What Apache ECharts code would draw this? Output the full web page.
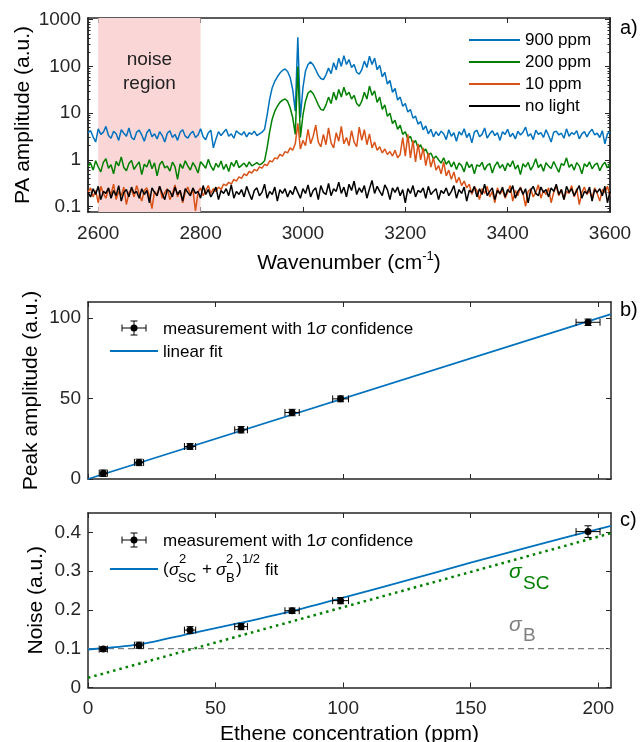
<!DOCTYPE html>
<html>
<head>
<meta charset="utf-8">
<title>PA spectra and calibration</title>
<script src="https://cdn.jsdelivr.net/npm/echarts@6/dist/echarts.min.js"></script>
<style>
  html, body { margin: 0; padding: 0; background: #fff; }
  #chart { width: 642px; height: 742px; }
</style>
</head>
<body>
<div id="chart"></div>
<script>
// ---- panel a: spectra, sampled every 5 cm-1 from 2580 to 3600 ----
const ppm900 = [
  3.8,4.2,3.1,2.4,4.6,3.5,3.9,5.2,3.3,2.9,4.1,3.6,2.6,4.4,3.7,3.2,4.8,3.0,2.7,3.9,
  4.3,3.4,2.5,3.8,4.5,3.1,3.6,2.8,4.0,3.3,2.4,3.7,4.2,3.0,3.5,2.6,3.9,4.4,3.2,2.9,
  3.6,4.1,3.0,3.4,4.6,3.1,2.7,3.8,4.3,1.8,2.8,4.0,3.3,3.9,4.5,3.2,3.6,2.9,4.2,3.7,
  3.4,4.0,3.1,3.8,3.5,4.1,3.3,3.6,3.9,
  4.5,9,20,35,48,60,72,82,88,78,58,32,11,420,
  8,35,80,110,125,108,85,65,55,52,66,92,70,120,85,150,100,170,110,140,95,110,
  75,68,85,130,95,165,110,150,85,105,60,75,42,50,28,34,19,22,14,16,10.5,12,7.8,8.6,5.8,6.6,4.4,5.3,3.6,4.5,3.1,4.0,
  3.3,4.1,3.6,2.7,4.4,3.2,3.8,2.5,4.0,3.4,4.6,3.0,3.7,2.3,3.9,4.3,3.1,3.5,4.8,2.9,
  3.6,4.2,3.3,3.8,2.6,4.0,3.5,4.5,3.1,3.7,2.8,4.1,3.4,3.9,5.0,3.2,3.6,2.7,4.3,3.5,
  3.8,3.0,4.4,3.3,2.4,3.9,4.1,3.4,3.7,2.9,4.6,3.2,3.8,3.5,4.2,2.8,3.6,4.0,3.1,3.9,
  4.5,3.4,3.7,3.0,4.2,2.2,3.6,4.0
];
const ppm200 = [
  0.72,0.85,0.6,0.95,0.7,0.55,0.88,1.05,0.66,0.78,0.5,0.92,0.74,1.15,0.68,0.58,0.83,0.97,0.62,0.76,
  0.9,0.48,0.8,0.7,1.0,0.64,0.86,0.45,0.79,0.93,0.67,0.73,0.57,0.89,0.71,0.38,0.82,0.65,0.95,0.74,
  0.6,0.87,0.7,0.52,0.91,0.78,0.66,1.02,0.73,0.59,0.84,0.69,0.94,0.62,0.8,0.56,0.88,0.72,0.98,0.68,
  0.76,0.85,0.7,0.9,0.74,0.8,0.87,0.78,0.83,
  0.95,1.8,4,7.5,11,14,17,19,20,18,13,8,3.5,100,
  3,9,18,27,30,26,20,15,12,11.5,15,22,16,28,19,32,22,36,24,28,20,24,
  16,14,18,28,20,38,24,30,17,22,12,15,8.5,10,6,7,4.5,5.5,3.5,4,2.8,3.2,2.2,2.6,1.8,2.1,1.5,1.7,1.25,1.4,1.05,1.2,
  1.0,0.85,1.1,0.8,0.95,0.7,0.9,0.62,0.85,0.75,0.55,0.9,0.68,0.8,0.5,0.78,0.72,0.88,0.6,0.76,
  0.83,0.52,0.74,0.9,0.66,0.79,0.58,0.85,0.71,0.95,0.63,0.77,0.48,0.82,0.7,0.88,0.6,0.75,1.05,0.68,
  0.8,0.57,0.86,0.73,0.65,0.92,0.7,0.54,0.83,0.76,1.1,0.69,0.8,0.6,0.87,0.74,0.5,0.82,0.71,0.9,
  0.64,0.78,0.85,0.58,0.76,0.88,0.67,0.8
];
const ppm10 = [
  0.2,0.25,0.16,0.22,0.12,0.27,0.19,0.15,0.24,0.18,0.3,0.14,0.21,0.17,0.26,0.11,0.2,0.23,0.16,0.28,
  0.19,0.13,0.22,0.25,0.17,0.09,0.21,0.18,0.27,0.15,0.2,0.24,0.14,0.19,0.29,0.16,0.22,0.12,0.2,0.26,
  0.18,0.23,0.08,0.2,0.25,0.17,0.22,0.28,0.19,0.24,0.21,0.26,0.23,0.3,0.28,0.33,0.3,0.38,0.35,0.43,
  0.4,0.5,0.46,0.56,0.52,0.62,0.58,0.7,0.66,
  0.8,0.75,0.95,0.9,1.1,1.05,1.3,1.2,1.5,1.4,1.8,1.6,2.2,6,
  1.7,2.6,2.0,4.5,2.2,3.2,5.5,2.4,1.9,3.5,2.1,4.8,2.3,1.8,3.8,2.5,5.2,2.2,3.0,2.0,4.2,2.4,
  1.9,5.0,2.6,4.4,2.1,3.6,1.8,2.4,1.6,1.9,1.4,1.7,1.3,1.5,1.2,1.6,1.1,1.3,3.0,1.2,3.5,1.1,2.6,0.9,2.2,1.0,1.8,0.75,1.4,0.7,1.1,0.6,
  0.75,0.5,0.9,0.45,0.6,0.38,0.55,0.32,0.42,0.28,0.35,0.25,0.3,0.18,0.26,0.22,0.14,0.24,0.19,0.27,
  0.16,0.21,0.12,0.25,0.18,0.23,0.15,0.2,0.28,0.13,0.22,0.17,0.26,0.19,0.1,0.21,0.24,0.16,0.2,0.29,
  0.15,0.22,0.18,0.25,0.12,0.2,0.27,0.17,0.23,0.14,0.21,0.19,0.28,0.16,0.24,0.11,0.2,0.26,0.18,0.22,
  0.15,0.25,0.19,0.13,0.23,0.2,0.27,0.17
];
const noLight = [
  0.2,0.16,0.24,0.18,0.27,0.14,0.21,0.19,0.25,0.15,0.22,0.17,0.28,0.13,0.2,0.23,0.16,0.26,0.19,0.21,
  0.15,0.24,0.18,0.22,0.12,0.25,0.2,0.17,0.27,0.19,0.14,0.23,0.21,0.16,0.26,0.18,0.22,0.13,0.24,0.2,
  0.17,0.25,0.19,0.21,0.15,0.28,0.18,0.23,0.16,0.2,0.26,0.14,0.22,0.19,0.24,0.17,0.29,0.15,0.21,0.18,
  0.23,0.16,0.27,0.19,0.14,0.22,0.25,0.17,0.2,0.3,0.15,0.21,0.18,0.26,0.13,0.23,0.19,0.24,0.16,0.22,
  0.18,0.27,0.2,0.15,0.24,0.19,0.29,0.16,0.22,0.25,0.14,0.28,0.2,0.18,0.31,0.17,0.24,0.21,0.33,0.19,
  0.26,0.16,0.3,0.22,0.35,0.18,0.25,0.2,0.28,0.15,0.24,0.36,0.19,0.27,0.21,0.17,0.29,0.23,0.14,0.25,
  0.2,0.26,0.17,0.23,0.12,0.24,0.19,0.28,0.16,0.22,0.2,0.25,0.15,0.27,0.18,0.21,0.24,0.14,0.22,0.19,
  0.25,0.17,0.21,0.28,0.15,0.23,0.19,0.26,0.13,0.22,0.2,0.27,0.16,0.24,0.18,0.3,0.17,0.21,0.25,0.14,
  0.22,0.19,0.26,0.16,0.23,0.2,0.28,0.15,0.21,0.25,0.18,0.24,0.12,0.22,0.27,0.19,0.17,0.26,0.2,0.23,
  0.16,0.25,0.21,0.3,0.18,0.23,0.14,0.27,0.2,0.24,0.17,0.22,0.28,0.15,0.21,0.19,0.26,0.13,0.23,0.2,
  0.24,0.17,0.27,0.12,0.21
];
const wavenumbers = ppm900.map((_, i) => 2580 + 5 * i);
const wnTicks = [2600, 2800, 3000, 3200, 3400, 3600];
const logTicks = [0.1, 1, 10, 100, 1000];
const logMinor = [0.08, 0.09, 0.2, 0.3, 0.4, 0.5, 0.6, 0.7, 0.8, 0.9,
  2, 3, 4, 5, 6, 7, 8, 9, 20, 30, 40, 50, 60, 70, 80, 90,
  200, 300, 400, 500, 600, 700, 800, 900];

// ---- panels b and c: calibration ----
const concentration = [6, 20, 40, 60, 80, 99, 196];
const concErr = [1.6, 1.8, 2.2, 2.5, 2.8, 3.1, 4.7];
const peakAmp = [3.6, 10.3, 20.2, 30.6, 41.3, 49.8, 97.4];
const peakErr = [2, 2, 1.8, 2, 2, 1.8, 2];
const noise = [0.099, 0.109, 0.148, 0.157, 0.198, 0.224, 0.402];
const noiseErr = [0.006, 0.008, 0.009, 0.008, 0.007, 0.008, 0.015];

const linFitConc = [0, 205];
const linFitPeak = [0, 102.4];
const noiseFitConc = [0, 20, 40, 60, 80, 100, 125, 150, 175, 205];
const noiseFit = [0.098, 0.111, 0.139, 0.167, 0.197, 0.232, 0.276, 0.322, 0.366, 0.417];
const sigmaLineConc = [0, 205];
const sigmaSC = [0.025, 0.398];
const sigmaB = [0.1, 0.1];
const concTicks = [0, 50, 100, 150, 200];
const peakTicks = [0, 50, 100];
const noiseTicks = [0, 0.1, 0.2, 0.3, 0.4];

const FONT = "'Liberation Sans', Arial, sans-serif";
const AX = '#262626';
const BLUE = '#0072BD', GREEN = '#008000', ORANGE = '#D95319';
const SPEC_W = 1.5;

const chart = echarts.init(document.getElementById('chart'));

const pairs = (xs, ys) => xs.map((x, i) => [x, ys[i]]);

function boxAxis(extra, ticks, labels, tickLen, margin) {
  return Object.assign({
    axisLine: { show: true, onZero: false, lineStyle: { color: AX, width: 1.5 } },
    axisTick: { show: true, inside: true, length: tickLen || 5, customValues: ticks,
      lineStyle: { color: AX, width: 1 } },
    axisLabel: labels ? { show: true, customValues: ticks, fontSize: 19, color: AX,
      fontFamily: FONT, margin: margin || 7, formatter: (v) => String(v) } : { show: false },
    splitLine: { show: false },
  }, extra);
}

function errorBars(xi, yi, ys, yErr) {
  return {
    type: 'custom',
    xAxisIndex: xi,
    yAxisIndex: yi,
    z: 5,
    data: concentration.map((c, k) => [c, ys[k], concErr[k], yErr[k]]),
    encode: { x: 0, y: 1 },
    renderItem: (params, api) => {
      const x = api.value(0), y = api.value(1), dx = api.value(2), dy = api.value(3);
      const c = api.coord([x, y]);
      const l = api.coord([x - dx, y])[0], r = api.coord([x + dx, y])[0];
      const t = api.coord([x, y + dy])[1], b = api.coord([x, y - dy])[1];
      const s = { stroke: '#000', lineWidth: 1 };
      const cap = 3.5;
      return {
        type: 'group',
        children: [
          { type: 'line', shape: { x1: l, y1: c[1], x2: r, y2: c[1] }, style: s },
          { type: 'line', shape: { x1: l, y1: c[1] - cap, x2: l, y2: c[1] + cap }, style: s },
          { type: 'line', shape: { x1: r, y1: c[1] - cap, x2: r, y2: c[1] + cap }, style: s },
          { type: 'line', shape: { x1: c[0], y1: t, x2: c[0], y2: b }, style: s },
          { type: 'line', shape: { x1: c[0] - cap, y1: t, x2: c[0] + cap, y2: t }, style: s },
          { type: 'line', shape: { x1: c[0] - cap, y1: b, x2: c[0] + cap, y2: b }, style: s },
          { type: 'circle', shape: { cx: c[0], cy: c[1], r: 3.5 }, style: { fill: '#000' } },
        ],
      };
    },
  };
}

function errIcon(cx, cy) {
  const s = { stroke: '#000', lineWidth: 1 };
  return {
    type: 'group',
    children: [
      { type: 'line', shape: { x1: cx - 12, y1: cy, x2: cx + 12, y2: cy }, style: s },
      { type: 'line', shape: { x1: cx - 12, y1: cy - 3.5, x2: cx - 12, y2: cy + 3.5 }, style: s },
      { type: 'line', shape: { x1: cx + 12, y1: cy - 3.5, x2: cx + 12, y2: cy + 3.5 }, style: s },
      { type: 'line', shape: { x1: cx, y1: cy - 7, x2: cx, y2: cy + 7 }, style: s },
      { type: 'line', shape: { x1: cx - 3.5, y1: cy - 7, x2: cx + 3.5, y2: cy - 7 }, style: s },
      { type: 'line', shape: { x1: cx - 3.5, y1: cy + 7, x2: cx + 3.5, y2: cy + 7 }, style: s },
      { type: 'circle', shape: { cx: cx, cy: cy, r: 3.5 }, style: { fill: '#000' } },
    ],
  };
}

function txt(x, y, text, size, color, extra) {
  return {
    type: 'text', x: x, y: y,
    style: Object.assign({ text: text, fontSize: size, fontFamily: FONT, fill: color || '#000',
      verticalAlign: 'middle', align: 'left' }, extra || {}),
  };
}

const sigmaRich = { s: { fontStyle: 'italic', fontSize: 17, fontFamily: FONT, fill: '#000' } };
const legendLine = (name, color) => ({ name: name, icon: 'rect', itemStyle: { color: color } });
const yName = { fontSize: 21, color: '#000', fontFamily: FONT };

const option = {
  animation: false,
  backgroundColor: '#fff',
  textStyle: { fontFamily: FONT },
  grid: [
    { left: 88, top: 18, width: 522, height: 194, outerBoundsMode: 'none', containLabel: false },
    { left: 88, top: 302, width: 523, height: 177, outerBoundsMode: 'none', containLabel: false },
    { left: 88, top: 513, width: 523, height: 174.5, outerBoundsMode: 'none', containLabel: false },
  ],
  legend: {
    data: [
      legendLine('900 ppm', BLUE),
      legendLine('200 ppm', GREEN),
      legendLine('10 ppm', ORANGE),
      legendLine('no light', '#000'),
    ],
    orient: 'vertical',
    left: 464,
    top: 25,
    itemWidth: 51,
    itemHeight: 2,
    itemGap: 2,
    selectedMode: false,
    textStyle: { fontSize: 17, color: '#000', fontFamily: FONT, lineHeight: 20 },
  },
  xAxis: [
    boxAxis({ type: 'value', gridIndex: 0, position: 'bottom', min: 2580, max: 3600,
      name: 'Wavenumber (cm{sup|-1})', nameLocation: 'middle', nameGap: 38,
      nameTextStyle: { fontSize: 21, color: '#000', fontFamily: FONT, lineHeight: 26,
        rich: { sup: { fontSize: 13, fontFamily: FONT, color: '#000', verticalAlign: 'top', lineHeight: 14 } } } },
      wnTicks, true, 5, 12),
    boxAxis({ type: 'value', gridIndex: 0, position: 'top', min: 2580, max: 3600 }, wnTicks, false),
    boxAxis({ type: 'value', gridIndex: 1, position: 'bottom', min: 0, max: 205 }, concTicks, false),
    boxAxis({ type: 'value', gridIndex: 1, position: 'top', min: 0, max: 205 }, concTicks, false),
    boxAxis({ type: 'value', gridIndex: 2, position: 'bottom', min: 0, max: 205,
      name: 'Ethene concentration (ppm)', nameLocation: 'middle', nameGap: 36,
      nameTextStyle: { fontSize: 21, color: '#000', fontFamily: FONT } }, concTicks, true, 5, 12),
    boxAxis({ type: 'value', gridIndex: 2, position: 'top', min: 0, max: 205 }, concTicks, false),
  ],
  yAxis: [
    boxAxis({ type: 'log', logBase: 10, gridIndex: 0, position: 'left', min: 0.076, max: 1090,
      name: 'PA amplitude (a.u.)', nameLocation: 'middle', nameGap: 54, nameMoveOverlap: false,
      nameTextStyle: yName }, logTicks, true),
    boxAxis({ type: 'log', logBase: 10, gridIndex: 0, position: 'left', min: 0.076, max: 1090 }, logMinor, false, 2.5),
    boxAxis({ type: 'log', logBase: 10, gridIndex: 0, position: 'right', min: 0.076, max: 1090 }, logTicks, false),
    boxAxis({ type: 'log', logBase: 10, gridIndex: 0, position: 'right', min: 0.076, max: 1090 }, logMinor, false, 2.5),
    boxAxis({ type: 'value', gridIndex: 1, position: 'left', min: 0, max: 110,
      name: 'Peak amplitude (a.u.)', nameLocation: 'middle', nameGap: 46, nameMoveOverlap: false,
      nameTextStyle: yName }, peakTicks, true),
    boxAxis({ type: 'value', gridIndex: 1, position: 'right', min: 0, max: 110 }, peakTicks, false),
    boxAxis({ type: 'value', gridIndex: 2, position: 'left', min: 0, max: 0.45,
      name: 'Noise (a.u.)', nameLocation: 'middle', nameGap: 41, nameMoveOverlap: false,
      nameTextStyle: yName }, noiseTicks, true),
    boxAxis({ type: 'value', gridIndex: 2, position: 'right', min: 0, max: 0.45 }, noiseTicks, false),
  ],
  series: [
    {
      name: '900 ppm', type: 'line', xAxisIndex: 0, yAxisIndex: 0,
      data: pairs(wavenumbers, ppm900), symbol: 'none', color: BLUE,
      lineStyle: { width: SPEC_W, color: BLUE },
      markArea: {
        silent: true,
        itemStyle: { color: '#FAD6D6' },
        label: { show: true, position: 'insideTop', distance: 30, formatter: 'noise\nregion',
          fontSize: 19, lineHeight: 24, color: '#222', fontFamily: FONT },
        data: [[{ xAxis: 2600 }, { xAxis: 2800 }]],
      },
    },
    {
      name: '200 ppm', type: 'line', xAxisIndex: 0, yAxisIndex: 0,
      data: pairs(wavenumbers, ppm200), symbol: 'none', color: GREEN,
      lineStyle: { width: SPEC_W, color: GREEN },
    },
    {
      name: '10 ppm', type: 'line', xAxisIndex: 0, yAxisIndex: 0,
      data: pairs(wavenumbers, ppm10), symbol: 'none', color: ORANGE,
      lineStyle: { width: SPEC_W, color: ORANGE },
    },
    {
      name: 'no light', type: 'line', xAxisIndex: 0, yAxisIndex: 0,
      data: pairs(wavenumbers, noLight), symbol: 'none', color: '#000',
      lineStyle: { width: SPEC_W, color: '#000' },
    },
    {
      name: 'linear fit', type: 'line', xAxisIndex: 2, yAxisIndex: 4,
      data: pairs(linFitConc, linFitPeak), symbol: 'none',
      lineStyle: { width: 1.8, color: BLUE },
    },
    errorBars(2, 4, peakAmp, peakErr),
    {
      name: 'sigma B', type: 'line', xAxisIndex: 4, yAxisIndex: 6,
      data: pairs(sigmaLineConc, sigmaB), symbol: 'none',
      lineStyle: { width: 1.2, color: '#808080', type: [6, 4] },
    },
    {
      name: 'sigma SC', type: 'line', xAxisIndex: 4, yAxisIndex: 6,
      data: pairs(sigmaLineConc, sigmaSC), symbol: 'none',
      lineStyle: { width: 2.5, color: GREEN, type: [2.5, 4] },
    },
    {
      name: 'noise fit', type: 'line', xAxisIndex: 4, yAxisIndex: 6,
      data: pairs(noiseFitConc, noiseFit), symbol: 'none', smooth: 0.3,
      lineStyle: { width: 1.8, color: BLUE },
    },
    errorBars(4, 6, noise, noiseErr),
  ],
  graphic: [
    txt(620, 28, 'a)', 20),
    txt(620, 310, 'b)', 20),
    txt(620, 520, 'c)', 20),
    // panel b legend
    errIcon(134, 328),
    txt(163, 329, 'measurement with 1{s|σ} confidence', 17, '#000', { rich: sigmaRich }),
    { type: 'line', shape: { x1: 110, y1: 351, x2: 158, y2: 351 }, style: { stroke: BLUE, lineWidth: 1.8 } },
    txt(163, 352, 'linear fit', 17),
    // panel c legend
    errIcon(134, 540),
    txt(163, 541, 'measurement with 1{s|σ} confidence', 17, '#000', { rich: sigmaRich }),
    { type: 'line', shape: { x1: 110, y1: 569, x2: 158, y2: 569 }, style: { stroke: BLUE, lineWidth: 1.8 } },
    txt(163, 569, '(', 17),
    txt(169, 570, 'σ', 17, '#000', { fontStyle: 'italic' }),
    txt(179, 559, '2', 13),
    txt(178, 578, 'SC', 13),
    txt(202, 569, '+', 17),
    txt(216, 570, 'σ', 17, '#000', { fontStyle: 'italic' }),
    txt(226, 559, '2', 13),
    txt(226, 578, 'B', 13),
    txt(236, 569, ')', 17),
    txt(242, 559, '1/2', 13),
    txt(265, 570, 'fit', 17),
    // curve annotations
    txt(509, 572, 'σ', 21, GREEN, { fontStyle: 'italic' }),
    txt(523, 584, 'SC', 19, GREEN),
    txt(509, 625, 'σ', 21, '#808080', { fontStyle: 'italic' }),
    txt(523, 636, 'B', 19, '#808080'),
  ],
};

chart.setOption(option);
</script>
</body>
</html>
